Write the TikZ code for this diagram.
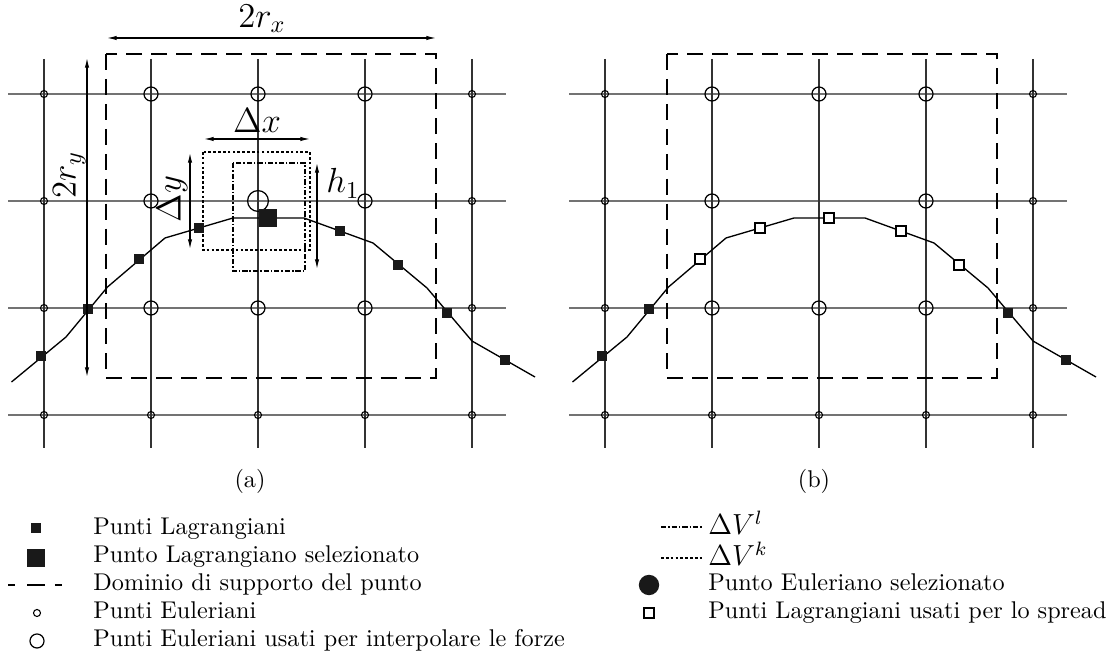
\documentclass[tikz,border=0pt]{standalone}
\usetikzlibrary{arrows.meta}
\begin{document}
\begin{tikzpicture}[x=0.413pt,y=0.413pt,
    gridh/.style={draw=black!55,line width=0.65pt},
    gridv/.style={draw=black!80,line width=0.45pt},
    eulpt/.style={circle,draw,line width=0.45pt,inner sep=0pt,minimum size=2.9pt},
    eulbig/.style={circle,draw,line width=0.5pt,inner sep=0pt,minimum size=5.8pt},
    eulsel/.style={circle,draw,line width=0.5pt,inner sep=0pt,minimum size=8.6pt},
    eulselfill/.style={circle,fill=black!90,inner sep=0pt,minimum size=8.4pt},
    lagpt/.style={rectangle,fill=black!90,inner sep=0pt,minimum size=4.1pt},
    lagsel/.style={rectangle,fill=black!90,inner sep=0pt,minimum size=7.6pt},
    lagspread/.style={rectangle,draw,fill=white,line width=0.5pt,inner sep=0pt,minimum size=4.1pt},
    suppbox/.style={line width=0.5pt,dash pattern=on 6.6pt off 3.7pt},
    dvk/.style={line width=0.45pt,dash pattern=on 1.1pt off 0.9pt},
    dvl/.style={line width=0.45pt,dash pattern=on 2.2pt off 0.8pt on 0.6pt off 0.8pt},
    curve/.style={line width=0.55pt,line join=round},
    dimarrow/.style={line width=0.45pt,{Latex[length=4pt,width=1.8pt]}-{Latex[length=4pt,width=1.8pt]}},
    lbl/.style={font=\Large,inner sep=0pt},
    legtext/.style={anchor=base west,inner sep=0pt}]
  \useasboundingbox (0,0) rectangle (1115,-664);

  %% common part of both panels: grid, support domain, curve
  \foreach \pan/\ox in {a/0,b/561}{
    \begin{scope}[shift={(\ox,0)}]
      \foreach \i in {0,...,4}
        \foreach \j in {0,...,3}
          \coordinate (\pan-\i-\j) at ({44+107*\i},{-94-107*\j});
      \foreach \j in {0,...,3}
        \draw[gridh] (8,{-94-107*\j}) -- (506,{-94-107*\j});
      \foreach \i in {0,...,4}
        \draw[gridv] ({44+107*\i},-59) -- ({44+107*\i},-448);
      \draw[suppbox] (106,-54) rectangle (436,-378);
      \draw[curve] (11.5,-382) -- (66,-337) -- (107.5,-287) -- (165,-238)
        -- (233,-218) -- (304,-218) -- (373,-243) -- (427,-288)
        -- (472,-341) -- (535,-377);
      \foreach \n/\px/\py in {1/41/356,2/88/309,3/139/259,4/199/228,5/268/218,
                              6/340/231,7/398/265,8/447/313,9/505/360}
        \coordinate (\pan-L\n) at (\px,-\py);
      %% Eulerian points
      \foreach \j in {0,...,3}{
        \node[eulpt] (\pan-e0\j) at (\pan-0-\j) {};
        \node[eulpt] (\pan-e4\j) at (\pan-4-\j) {};
      }
      \foreach \i in {1,2,3}
        \node[eulpt] (\pan-e\i3) at (\pan-\i-3) {};
      \foreach \i/\j in {1/0,2/0,3/0,1/1,3/1,1/2,2/2,3/2}
        \node[eulbig] (\pan-e\i\j) at (\pan-\i-\j) {};
    \end{scope}
  }

  %% Panel (a)
  \draw[dvk] (203,-152) rectangle (310,-250);
  \draw[dvl] (233,-163) rectangle (305,-271);
  \node[eulsel] (a-sel) at (a-2-1) {};
  \foreach \n in {1,2,3,4,6,7,8,9}
    \node[lagpt] (a-lag\n) at (a-L\n) {};
  \node[lagsel] (a-lagsel) at (a-L5) {};

  \coordinate (rxL) at (107,-38);
  \coordinate (rxR) at (436,-38);
  \draw[dimarrow] (rxL) -- (rxR);
  \node[lbl,anchor=south] (rxlab) at (262,-33) {$2r_x$};
  \coordinate (ryT) at (87,-58);
  \coordinate (ryB) at (87,-377);
  \draw[dimarrow] (ryT) -- (ryB);
  \node[lbl,rotate=90,anchor=south] (rylab) at (86,-175) {$2r_y$};
  \coordinate (dxL) at (204,-139);
  \coordinate (dxR) at (310,-139);
  \draw[dimarrow] (dxL) -- (dxR);
  \node[lbl,anchor=south] (dxlab) at (257,-133) {$\Delta x$};
  \coordinate (dyT) at (190,-153);
  \coordinate (dyB) at (190,-249);
  \draw[dimarrow] (dyT) -- (dyB);
  \node[lbl,rotate=90,anchor=south] (dylab) at (188,-199) {$\Delta y$};
  \coordinate (hT) at (317,-163);
  \coordinate (hB) at (317,-269);
  \draw[dimarrow] (hT) -- (hB);
  \node[lbl,anchor=base west] (hlab) at (326,-193) {$h_1$};
  \node (capa) at (250,-481) {(a)};

  %% Panel (b)
  \foreach \n in {1,2,8,9}
    \node[lagpt] (b-lag\n) at (b-L\n) {};
  \foreach \n in {3,...,7}
    \node[lagspread] (b-lag\n) at (b-L\n) {};
  \node (capb) at (814,-481) {(b)};

  %% Legend, left column
  \node[lagpt] (legLag) at (36,-528) {};
  \node[legtext] (txtLag) at (93,-535) {Punti Lagrangiani};
  \node[lagsel] (legSel) at (36,-558) {};
  \node[legtext] (txtSel) at (93,-563) {Punto Lagrangiano selezionato};
  \coordinate (legDomA) at (8,-585);
  \coordinate (legDomB) at (62,-585);
  \draw[line width=0.5pt,dash pattern=on 2.9pt off 5pt on 7.4pt off 4.1pt] (legDomA) -- (legDomB);
  \node[legtext] (txtDom) at (93,-591) {Dominio di supporto del punto};
  \node[eulpt] (legEul) at (37,-613) {};
  \node[legtext] (txtEul) at (93,-619) {Punti Euleriani};
  \node[eulbig] (legEulBig) at (37,-641) {};
  \node[legtext] (txtEulBig) at (93,-647) {Punti Euleriani usati per interpolare le forze};

  %% Legend, right column
  \coordinate (legDvlA) at (661,-527);
  \coordinate (legDvlB) at (703,-527);
  \draw[dvl] (legDvlA) -- (legDvlB);
  \node[legtext,font=\large] (txtDvl) at (708,-535) {$\Delta V^l$};
  \coordinate (legDvkA) at (661,-558);
  \coordinate (legDvkB) at (703,-558);
  \draw[dvk] (legDvkA) -- (legDvkB);
  \node[legtext,font=\large] (txtDvk) at (708,-566) {$\Delta V^k$};
  \node[eulselfill] (legEulSel) at (649,-585) {};
  \node[legtext] (txtEulSel) at (708,-591) {Punto Euleriano selezionato};
  \node[lagspread] (legSpread) at (649,-613) {};
  \node[legtext] (txtSpread) at (708,-619) {Punti Lagrangiani usati per lo spread};
\end{tikzpicture}
\end{document}
